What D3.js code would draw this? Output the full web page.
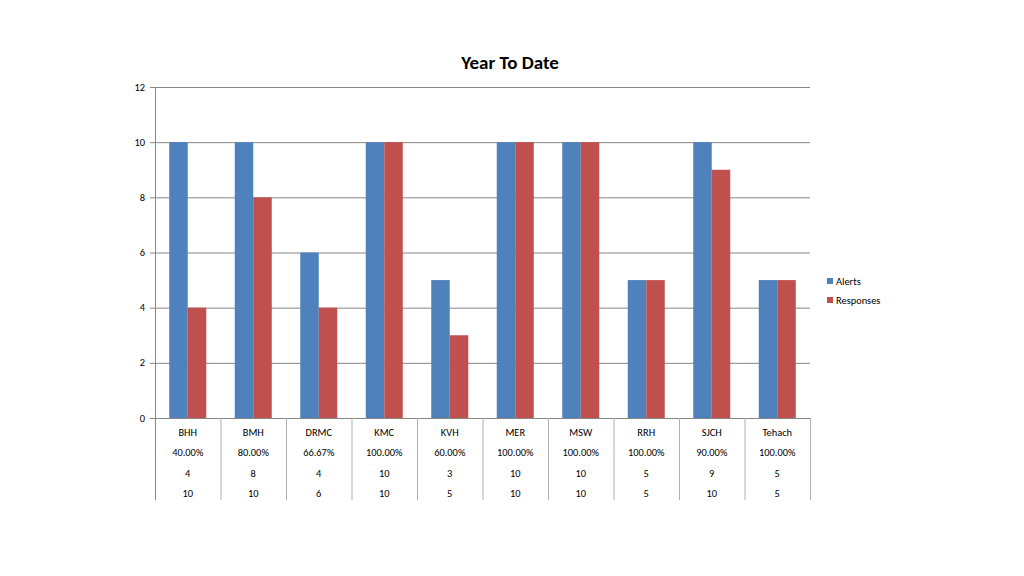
<!DOCTYPE html>
<html><head><meta charset="utf-8">
<script src="https://cdn.jsdelivr.net/npm/d3@7"></script>
<style>body{margin:0;background:#fff;} text{font-family:Carlito,"Liberation Sans",Arial,sans-serif;}</style>
</head><body>
<svg id="c" width="1024" height="576"></svg>
<script>
const categories = ["BHH","BMH","DRMC","KMC","KVH","MER","MSW","RRH","SJCH","Tehach"];
const alerts = [10,10,6,10,5,10,10,5,10,5];
const responses = [4,8,4,10,3,10,10,5,9,5];
const percents = ["40.00%","80.00%","66.67%","100.00%","60.00%","100.00%","100.00%","100.00%","90.00%","100.00%"];
const yTicks = [0,2,4,6,8,10,12];
const seriesNames = ["Alerts","Responses"];
const colors = ["#4F81BD","#C0504D"];

const svg = d3.select("#c");
const L=155, R=810, T=87, B=418;
const FS = 10.4;
const x = d3.scaleBand().domain(categories).range([L,R]);
const xs = d3.scaleBand().domain(seriesNames).range([0, x.bandwidth()]).paddingInner(0).paddingOuter(0.77);
const y = d3.scaleLinear().domain([0,12]).range([B,T]);

svg.append("text").attr("x",510).attr("y",69).attr("text-anchor","middle")
  .attr("font-size",19).attr("font-weight","bold").attr("fill","#000").text("Year To Date");

// gridlines
svg.append("g").selectAll("line").data(yTicks).join("line")
  .attr("x1",L-5).attr("x2",R).attr("y1",d=>y(d)+0.5).attr("y2",d=>y(d)+0.5)
  .attr("stroke","#868686").attr("stroke-width",1);
svg.append("g").selectAll("text").data(yTicks).join("text")
  .attr("x",L-10).attr("y",d=>y(d)+3.5).attr("text-anchor","end").attr("font-size",FS).attr("fill","#000").text(d=>d);

// bars
const series = [alerts, responses];
series.forEach((vals,si)=>{
  svg.append("g").selectAll("rect").data(categories).join("rect")
    .attr("x",(d)=>x(d)+xs(seriesNames[si]))
    .attr("width",xs.bandwidth())
    .attr("y",(d,i)=>y(vals[i]))
    .attr("height",(d,i)=>B-y(vals[i]))
    .attr("fill",colors[si]);
});

// axis line
svg.append("line").attr("x1",L+0.5).attr("x2",L+0.5).attr("y1",T).attr("y2",500).attr("stroke","#868686");
// table verticals
svg.append("g").selectAll("line").data(categories).join("line")
  .attr("x1",d=>x(d)+x.bandwidth()+0.5).attr("x2",d=>x(d)+x.bandwidth()+0.5)
  .attr("y1",B).attr("y2",500).attr("stroke","#b0b0b0");

const rows = [categories, percents, responses, alerts];
const rowY = [436,456,477,497];
rows.forEach((row,ri)=>{
  svg.append("g").selectAll("text").data(row).join("text")
    .attr("x",(d,i)=>x(categories[i])+x.bandwidth()/2)
    .attr("y",rowY[ri]).attr("text-anchor","middle").attr("font-size",FS).attr("fill","#000").text(d=>d);
});

// legend
seriesNames.forEach((n,i)=>{
  svg.append("rect").attr("x",827).attr("y",278+i*19).attr("width",6).attr("height",6).attr("fill",colors[i]);
  svg.append("text").attr("x",836).attr("y",285+i*19).attr("font-size",FS).attr("fill","#000").text(n);
});
</script>
</body></html>
